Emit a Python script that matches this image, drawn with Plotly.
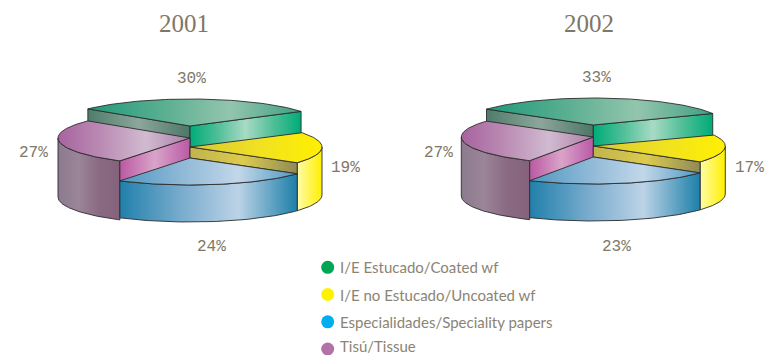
import numpy as np
import plotly.graph_objects as go

# Market share by paper grade, per year (percent)
categories = ["I/E Estucado/Coated wf", "I/E no Estucado/Uncoated wf",
              "Especialidades/Speciality papers", "Tisú/Tissue"]
years = ["2001", "2002"]
shares_2001 = [30, 19, 24, 27]
shares_2002 = [33, 17, 23, 27]

legend_colors = ["#00a651", "#fff200", "#00aeef", "#b272a8"]

TEXT = "#7f7767"
KEY_TEXT = "#8b8474"
EDGE = "#2b2b2b"
RX, RY = 132, 27


def scale(*stops):
    n = len(stops)
    return [[i / (n - 1), c] for i, c in enumerate(stops)]


# Shading of the top, cut and rim faces of each grade
TOPS = [scale("#1f9a7c", "#56ad8f", "#93c5ae", "#3f9f82"),
        scale("#d6c634", "#efe024", "#fff000"),
        scale("#4d97c0", "#8cb7d6", "#c2d7e9", "#4d97c0"),
        scale("#a8639f", "#bb8cb4", "#d1bbd1", "#ab7ca6")]
CUTS = [scale("#00ab78", "#4fbf98", "#a8dac4", "#4fbf98", "#00ab78"),
        scale("#c0b44c", "#dccb4e", "#8f8a56"),
        scale("#4d97c0", "#c2d7e9", "#4d97c0"),
        scale("#bb58a3", "#d9a4c9", "#ba59a6")]
BACK_CUT = scale("#4f7c6a", "#8ca69c", "#4c7766")
RIMS = [scale("#00ab78", "#00ab78"),
        scale("#fffba8", "#fff000"),
        scale("#2080ab", "#76aacc", "#bcd3e7", "#1d7fa9"),
        scale("#8b7a8e", "#9b8598", "#8a6a82", "#85627c")]

# Vertical offset of each wedge's apex and depth of its rim and cut faces
APEX_OFFSET = [-21, 0, 11, -9]
RIM_DEPTH = [22, 48, 37, 59]
CUT_DEPTH = [22, 11, 37, 21]


def on_ellipse(cx, cy, deg):
    t = np.radians(deg)
    return cx + RX * np.cos(t), cy - RY * np.sin(t)


def face(fig, xs, ys, colorscale):
    fig.add_trace(go.Scatter(
        x=xs, y=ys, mode="lines", fill="toself",
        fillgradient=dict(type="horizontal", colorscale=colorscale),
        line=dict(color=EDGE, width=0.9, shape="linear"),
        showlegend=False, hoverinfo="skip"))


def wedge(fig, cx, base_y, idx, start, stop):
    """Draw one lifted wedge running clockwise from start to stop degrees."""
    cy = base_y + APEX_OFFSET[idx]
    h = RIM_DEPTH[idx]
    cut = CUT_DEPTH[idx]
    arc = np.linspace(start, stop, 90)
    ax, ay = on_ellipse(cx, cy, arc)

    # Front rim: only the part of the arc facing the viewer
    front = arc[np.sin(np.radians(arc)) <= 0]
    if front.size > 1:
        fx, fy = on_ellipse(cx, cy, front)
        face(fig, np.r_[fx, fx[::-1], fx[0]], np.r_[fy, fy[::-1] + h, fy[0]], RIMS[idx])

    # Cut faces along the two radii
    sx, sy = on_ellipse(cx, cy, start)
    ex, ey = on_ellipse(cx, cy, stop)
    if idx == 0:
        face(fig, [sx, cx, cx, sx, sx], [sy, cy, cy + cut, sy + cut, sy], BACK_CUT)
        face(fig, [cx, ex, ex, cx, cx], [cy, ey, ey + cut, cy + cut, cy], CUTS[0])
    elif idx == 1:
        face(fig, [cx, ex, ex, cx, cx], [cy, ey, ey + cut, cy + cut, cy], CUTS[1])
    elif idx == 3:
        face(fig, [sx, cx, cx, sx, sx], [sy, cy, cy + cut, sy + cut, sy], CUTS[3])

    # Top surface
    face(fig, np.r_[cx, ax, cx], np.r_[cy, ay, cy], TOPS[idx])


def pie(fig, cx, base_y, shares, first_angle):
    bounds = first_angle - np.cumsum([0] + list(shares)) * 360 / sum(shares)
    for idx in [0, 3, 1, 2]:
        wedge(fig, cx, base_y, idx, bounds[idx], bounds[idx + 1])


fig = go.Figure()
pie(fig, 190, 147, shares_2001, 140.7)
pie(fig, 593.3, 146, shares_2002, 144)

# Key: one swatch and name per grade
key_y = [267.3, 294.5, 321.8, 349]
key_text_y = [267.3, 294.5, 321.8, 345.5]
for color, y in zip(legend_colors, key_y):
    fig.add_trace(go.Scatter(
        x=[327.7], y=[y], mode="markers",
        marker=dict(size=13, color=color, line=dict(width=0)),
        cliponaxis=False, showlegend=False, hoverinfo="skip"))

notes = []
for name, y in zip(categories, key_text_y):
    notes.append(dict(x=337.5, y=y, text=name, showarrow=False, xanchor="left", yanchor="middle",
                      font=dict(family="Lato", size=15, color=KEY_TEXT)))

for x, text in zip([184, 589], years):
    notes.append(dict(x=x, y=23, text=text, showarrow=False, xanchor="center", yanchor="middle",
                      font=dict(family="Liberation Serif", size=25, color=TEXT)))

label_pos_2001 = [(191.7, 79), (345, 168), (211.7, 246.7), (33.7, 153)]
label_pos_2002 = [(596.3, 78), (749.7, 168), (616.3, 246.5), (438.3, 153)]
for shares, spots in ((shares_2001, label_pos_2001), (shares_2002, label_pos_2002)):
    for value, (x, y) in zip(shares, spots):
        notes.append(dict(x=x, y=y, text=f"{value}%", showarrow=False,
                          xanchor="center", yanchor="middle",
                          font=dict(family="Liberation Mono", size=16, color=TEXT)))

fig.update_layout(
    width=766, height=355, margin=dict(l=0, r=0, t=0, b=0),
    paper_bgcolor="white", plot_bgcolor="white",
    xaxis=dict(range=[0, 766], visible=False, fixedrange=True),
    yaxis=dict(range=[355, 0], visible=False, fixedrange=True),
    annotations=notes, hovermode=False, showlegend=False)

fig.write_html("out.html", config=dict(displayModeBar=False))
